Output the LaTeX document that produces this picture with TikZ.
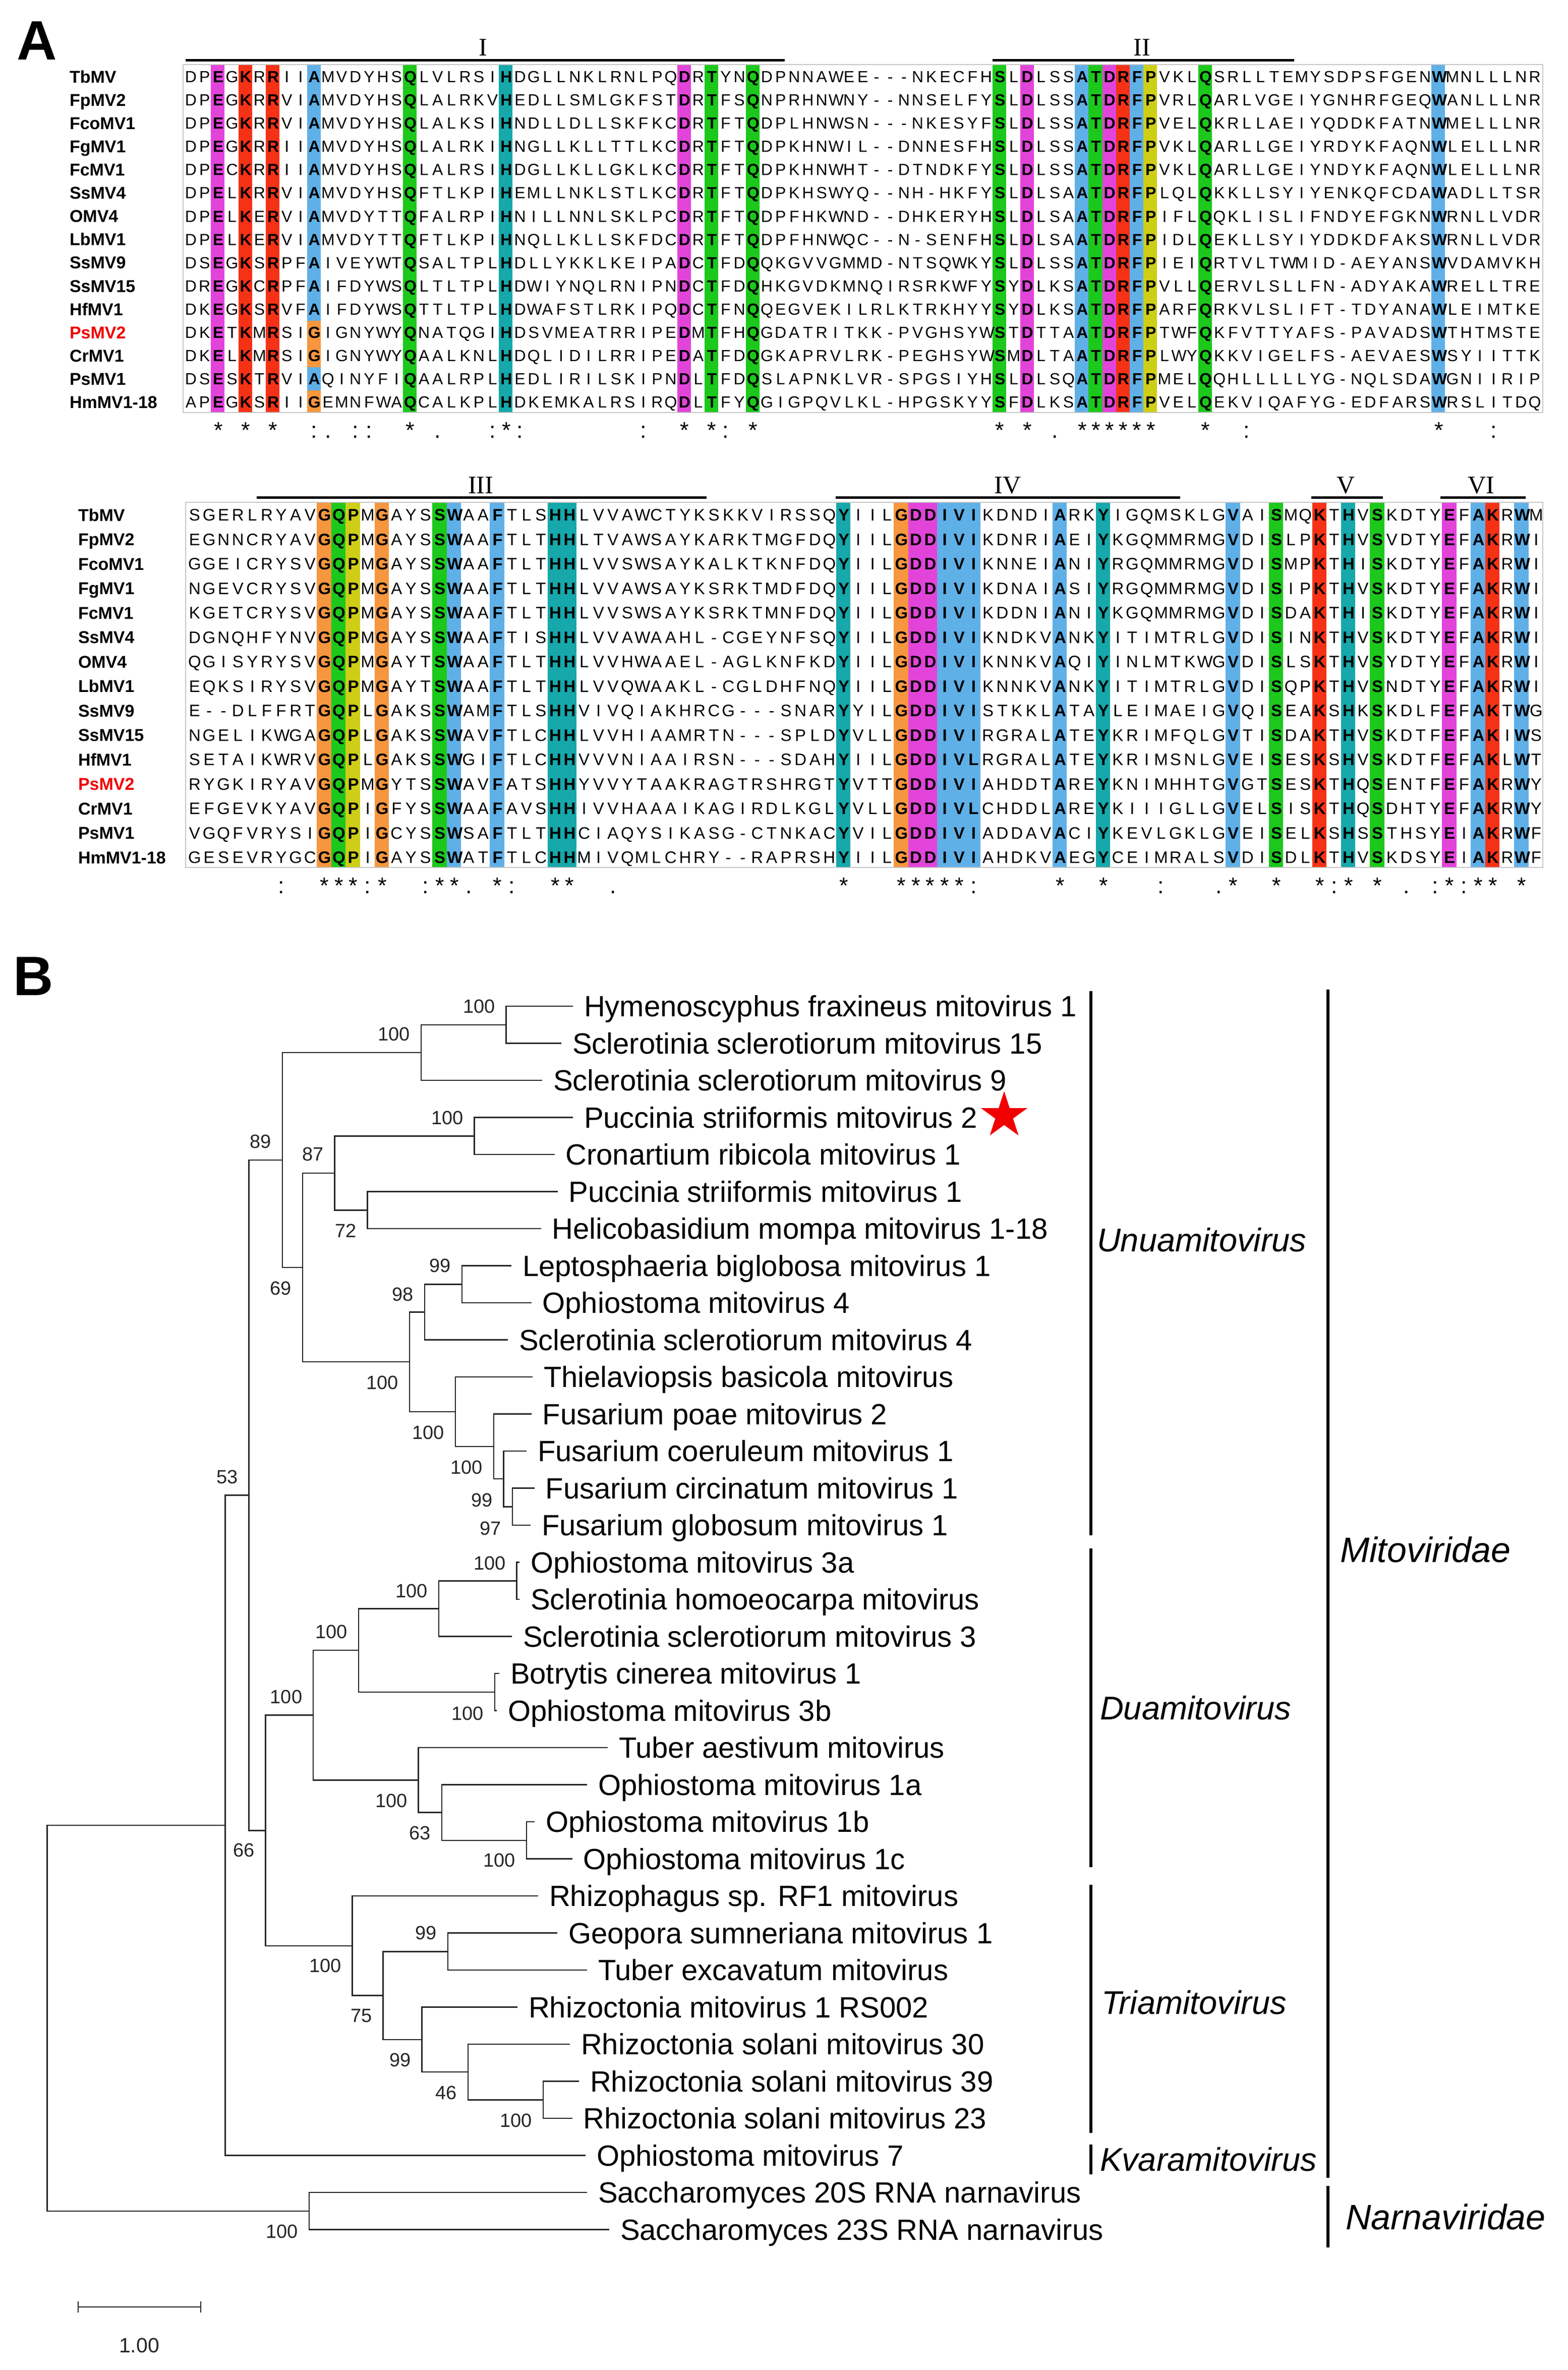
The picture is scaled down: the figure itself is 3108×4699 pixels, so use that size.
\documentclass[tikz,border=0pt]{standalone}
\usepackage{fontspec}
\setmainfont{Liberation Sans}
\newfontfamily\romfont{Liberation Serif}
\usetikzlibrary{calc,shapes.geometric}
\definecolor{cM}{RGB}{226,68,218}
\definecolor{cR}{RGB}{246,50,22}
\definecolor{cB}{RGB}{96,176,232}
\definecolor{cG}{RGB}{28,200,28}
\definecolor{cT}{RGB}{22,168,170}
\definecolor{cO}{RGB}{246,150,62}
\definecolor{cY}{RGB}{206,206,22}
\definecolor{psred}{RGB}{240,0,0}
\ExplSyntaxOn
\int_new:N \l__aln_col_int
\clist_new:N \l__aln_bold_clist
\dim_new:N \l__aln_w_dim
\str_new:N \l__aln_str
\cs_new_protected:Npn \aln_char:n #1
  {
    \int_incr:N \l__aln_col_int
    \str_if_eq:nnTF {#1} {0}
      { \hbox_to_wd:nn { \l__aln_w_dim } { \hfil } }
      {
        \exp_args:NNx \clist_if_in:NnTF \l__aln_bold_clist { \int_use:N \l__aln_col_int }
          { \hbox_to_wd:nn { \l__aln_w_dim } { \hfil \bfseries #1 \hfil } }
          { \hbox_to_wd:nn { \l__aln_w_dim } { \hfil #1 \hfil } }
      }
  }
\NewDocumentCommand \alnrow { m m m }
  {
    \dim_set:Nn \l__aln_w_dim {#1}
    \clist_set:Nx \l__aln_bold_clist {#2}
    \int_zero:N \l__aln_col_int
    \str_set:Nx \l__aln_str {#3}
    \str_map_function:NN \l__aln_str \aln_char:n
  }
\ExplSyntaxOff
\def\alnboldA{3,5,7,10,17,24,37,39,42,60,62,66,67,68,69,70,71,75,92}
\def\alnboldB{10,11,12,14,18,19,22,26,27,46,50,51,52,53,54,55,61,64,73,76,79,81,83,88,90,91,93}
\tikzset{
  panel/.style={font=\fontsize{22}{24}\selectfont\bfseries, inner sep=0pt, anchor=base},
  seqA/.style={font=\fontsize{6.4}{7}\selectfont, inner sep=0pt, anchor=base west},
  seqB/.style={font=\fontsize{6.6}{7}\selectfont, inner sep=0pt, anchor=base west},
  consv/.style={font=\fontsize{9}{10}\selectfont, inner sep=0pt, anchor=base west},
  nameS/.style={font=\fontsize{6.8}{8}\selectfont\bfseries, inner sep=0pt, anchor=base west},
  roman/.style={font=\fontsize{10}{12}\selectfont\romfont, inner sep=0pt, anchor=base},
  motif/.style={line width=1pt, draw=black},
  boxl/.style={line width=0.4pt, draw=black!22},
  tl/.style={line width=0.5pt, draw=black!85},
  leaflab/.style={font=\fontsize{11.6}{13}\selectfont, anchor=base west, inner sep=0pt},
  bsv/.style={font=\fontsize{7.6}{8}\selectfont, anchor=east, inner sep=0pt, text=black!85},
  brk/.style={line width=1.3pt, draw=black},
  genus/.style={font=\fontsize{13}{15}\selectfont\itshape, anchor=west, inner sep=0pt},
  family/.style={font=\fontsize{14}{16}\selectfont\itshape, anchor=west, inner sep=0pt},
}
\begin{document}
\begin{tikzpicture}[x=0.2pt,y=-0.2pt]
\useasboundingbox (0,0) rectangle (3108,4699);
\fill[white] (0,0) rectangle (3108,4699);

% ---------------- Panel A ----------------
\node[panel] (labA) at (73,119) {A};

% motif bars, top block
\coordinate (m1a) at (368,120); \coordinate (m1b) at (1556,120);
\coordinate (m2a) at (1968,120); \coordinate (m2b) at (2566,120);
\draw[motif] (m1a) -- (m1b);
\draw[motif] (m2a) -- (m2b);
\node[roman] (rI) at (958,111) {I};
\node[roman] (rII) at (2264,111) {II};

% coloured columns, top block
\foreach \c/\cl in {3/cM,5/cR,7/cR,10/cB,17/cG,24/cT,37/cM,39/cG,42/cG,60/cG,62/cM,66/cB,67/cG,68/cM,69/cR,70/cB,71/cY,75/cG,92/cB}
  \fill[\cl] ({363.9+(\c-1)*27.19},128) rectangle ++(27.19,690);
\fill[cO] (608.61,636) rectangle ++(27.19,92.25);
\fill[cO] (608.61,774.4) rectangle (635.8,818);
\draw[boxl] (363,128) rectangle (3059,818);

\foreach \i/\nm/\cc/\sq in {
1/TbMV/black/DPEGKRRIIAMVDYHSQLVLRSIHDGLLNKLRNLPQDRTYNQDPNNAWEE---NKECFHSLDLSSATDRFPVKLQSRLLTEMYSDPSFGENWMNLLLNR,
2/FpMV2/black/DPEGKRRVIAMVDYHSQLALRKVHEDLLSMLGKFSTDRTFSQNPRHNWNY--NNSELFYSLDLSSATDRFPVRLQARLVGEIYGNHRFGEQWANLLLNR,
3/FcoMV1/black/DPEGKRRVIAMVDYHSQLALKSIHNDLLDLLSKFKCDRTFTQDPLHNWSN---NKESYFSLDLSSATDRFPVELQKRLLAEIYQDDKFATNWMELLLNR,
4/FgMV1/black/DPEGKRRIIAMVDYHSQLALRKIHNGLLKLLTTLKCDRTFTQDPKHNWIL--DNNESFHSLDLSSATDRFPVKLQARLLGEIYRDYKFAQNWLELLLNR,
5/FcMV1/black/DPECKRRIIAMVDYHSQLALRSIHDGLLKLLGKLKCDRTFTQDPKHNWHT--DTNDKFYSLDLSSATDRFPVKLQARLLGEIYNDYKFAQNWLELLLNR,
6/SsMV4/black/DPELKRRVIAMVDYHSQFTLKPIHEMLLNKLSTLKCDRTFTQDPKHSWYQ--NH-HKFYSLDLSAATDRFPLQLQKKLLSYIYENKQFCDAWADLLTSR,
7/OMV4/black/DPELKERVIAMVDYTTQFALRPIHNILLNNLSKLPCDRTFTQDPFHKWND--DHKERYHSLDLSAATDRFPIFLQQKLISLIFNDYEFGKNWRNLLVDR,
8/LbMV1/black/DPELKERVIAMVDYTTQFTLKPIHNQLLKLLSKFDCDRTFTQDPFHNWQC--N-SENFHSLDLSAATDRFPIDLQEKLLSYIYDDKDFAKSWRNLLVDR,
9/SsMV9/black/DSEGKSRPFAIVEYWTQSALTPLHDLLYKKLKEIPADCTFDQQKGVVGMMD-NTSQWKYSLDLSSATDRFPIEIQRTVLTWMID-AEYANSWVDAMVKH,
10/SsMV15/black/DREGKCRPFAIFDYWSQLTLTPLHDWIYNQLRNIPNDCTFDQHKGVDKMNQIRSRKWFYSYDLKSATDRFPVLLQERVLSLLFN-ADYAKAWRELLTRE,
11/HfMV1/black/DKEGKSRVFAIFDYWSQTTLTPLHDWAFSTLRKIPQDCTFNQQEGVEKILRLKTRKHYYSYDLKSATDRFPARFQRKVLSLIFT-TDYANAWLEIMTKE,
12/PsMV2/psred/DKETKMRSIGIGNYWYQNATQGIHDSVMEATRRIPEDMTFHQGDATRITKK-PVGHSYWSTDTTAATDRFPTWFQKFVTTYAFS-PAVADSWTHTMSTE,
13/CrMV1/black/DKELKMRSIGIGNYWYQAALKNLHDQLIDILRRIPEDATFDQGKAPRVLRK-PEGHSYWSMDLTAATDRFPLWYQKKVIGELFS-AEVAESWSYIITTK,
14/PsMV1/black/DSESKTRVIAQINYFIQAALRPLHEDLIRILSKIPNDLTFDQSLAPNKLVR-SPGSIYHSLDLSQATDRFPMELQQHLLLLLYG-NQLSDAWGNIIRIP,
15/HmMV1-18/black/APEGKSRIIGEMNFWAQCALKPLHDKEMKALRSIRQDLTFYQGIGPQVLKL-HPGSKYYSFDLKSATDRFPVELQEKVIQAFYG-EDFARSWRSLITDQ}
{
  \node[nameS, text=\cc] (na\i) at (137,{152+(\i-1)*46.1+12.2}) {\nm};
  \node[seqA] (sa\i) at (363.9,{152+(\i-1)*46.1+11.5}) {\alnrow{5.438pt}{\alnboldA}{\sq}};
}
\node[consv] (ca) at (363.9,869) {\alnrow{5.438pt}{}{00*0*0*00:.0::00*0.000:*:00000000:00*0*:0*00000000000000000*0*0.0******000*00:0000000000000*000:000}};

% bottom block
\coordinate (m3a) at (509,987); \coordinate (m3b) at (1401,987);
\coordinate (m4a) at (1657,987); \coordinate (m4b) at (2340,987);
\coordinate (m5a) at (2600,987); \coordinate (m5b) at (2742,987);
\coordinate (m6a) at (2856,987); \coordinate (m6b) at (3025,987);
\draw[motif] (m3a) -- (m3b);
\draw[motif] (m4a) -- (m4b);
\draw[motif] (m5a) -- (m5b);
\draw[motif] (m6a) -- (m6b);
\node[roman] (rIII) at (953,979) {III};
\node[roman] (rIV) at (1998,979) {IV};
\node[roman] (rV) at (2669,979) {V};
\node[roman] (rVI) at (2937,979) {VI};

\foreach \c/\cl in {10/cO,11/cG,12/cY,14/cO,18/cG,19/cB,22/cB,26/cT,27/cT,46/cT,50/cO,51/cM,52/cM,53/cB,54/cB,55/cB,61/cB,64/cT,73/cB,76/cG,79/cR,81/cT,83/cG,88/cM,90/cB,91/cR,93/cB}
  \fill[\cl] ({370.7+(\c-1)*28.6},996) rectangle ++(28.6,724);
\draw[boxl] (368,996) rectangle (3059,1720);

\foreach \i/\nm/\cc/\sq in {
1/TbMV/black/SGERLRYAVGQPMGAYSSWAAFTLSHHLVVAWCTYKSKKVIRSSQYIILGDDIVIKDNDIARKYIGQMSKLGVAISMQKTHVSKDTYEFAKRWM,
2/FpMV2/black/EGNNCRYAVGQPMGAYSSWAAFTLTHHLTVAWSAYKARKTMGFDQYIILGDDIVIKDNRIAEIYKGQMMRMGVDISLPKTHVSVDTYEFAKRWI,
3/FcoMV1/black/GGEICRYSVGQPMGAYSSWAAFTLTHHLVVSWSAYKALKTKNFDQYIILGDDIVIKNNEIANIYRGQMMRMGVDISMPKTHISKDTYEFAKRWI,
4/FgMV1/black/NGEVCRYSVGQPMGAYSSWAAFTLTHHLVVAWSAYKSRKTMDFDQYIILGDDIVIKDNAIASIYRGQMMRMGVDISIPKTHVSKDTYEFAKRWI,
5/FcMV1/black/KGETCRYSVGQPMGAYSSWAAFTLTHHLVVSWSAYKSRKTMNFDQYIILGDDIVIKDDNIANIYKGQMMRMGVDISDAKTHISKDTYEFAKRWI,
6/SsMV4/black/DGNQHFYNVGQPMGAYSSWAAFTISHHLVVAWAAHL-CGEYNFSQYIILGDDIVIKNDKVANKYITIMTRLGVDISINKTHVSKDTYEFAKRWI,
7/OMV4/black/QGISYRYSVGQPMGAYTSWAAFTLTHHLVVHWAAEL-AGLKNFKDYIILGDDIVIKNNKVAQIYINLMTKWGVDISLSKTHVSYDTYEFAKRWI,
8/LbMV1/black/EQKSIRYSVGQPMGAYTSWAAFTLTHHLVVQWAAKL-CGLDHFNQYIILGDDIVIKNNKVANKYITIMTRLGVDISQPKTHVSNDTYEFAKRWI,
9/SsMV9/black/E--DLFFRTGQPLGAKSSWAMFTLSHHVIVQIAKHRCG---SNARYYILGDDIVISTKKLATAYLEIMAEIGVQISEAKSHKSKDLFEFAKTWG,
10/SsMV15/black/NGELIKWGAGQPLGAKSSWAVFTLCHHLVVHIAAMRTN---SPLDYVLLGDDIVIRGRALATEYKRIMFQLGVTISDAKTHVSKDTFEFAKIWS,
11/HfMV1/black/SETAIKWRVGQPLGAKSSWGIFTLCHHVVVNIAAIRSN---SDAHYIILGDDIVLRGRALATEYKRIMSNLGVEISESKSHVSKDTFEFAKLWT,
12/PsMV2/psred/RYGKIRYAVGQPMGYTSSWAVFATSHHYVVYTAAKRAGTRSHRGTYVTTGDDIVIAHDDTAREYKNIMHHTGVGTSESKTHQSENTFEFAKRWY,
13/CrMV1/black/EFGEVKYAVGQPIGFYSSWAAFAVSHHIVVHAAAIKAGIRDLKGLYVLLGDDIVLCHDDLAREYKIIIGLLGVELSISKTHQSDHTYEFAKRWY,
14/PsMV1/black/VGQFVRYSIGQPIGCYSSWSAFTLTHHCIAQYSIKASG-CTNKACYVILGDDIVIADDAVACIYKEVLGKLGVEISELKSHSSTHSYEIAKRWF,
15/HmMV1-18/black/GESEVRYGCGQPIGAYSSWATFTLCHHMIVQMLCHRY--RAPRSHYIILGDDIVIAHDKVAEGYCEIMRALSVDISDLKTHVSKDSYEIAKRWF}
{
  \node[nameS, text=\cc] (nb\i) at (154,{1021+(\i-1)*48.5+12.2}) {\nm};
  \node[seqB] (sb\i) at (370.7,{1021+(\i-1)*48.5+11.8}) {\alnrow{5.72pt}{\alnboldB}{\sq}};
}
\node[consv] (cb) at (370.7,1771) {\alnrow{5.72pt}{}{000000:00***:*00:**.0*:00**00.000000000000000*000*****:00000*00*000:000.*00*00*:*0*0.0:*:**0*0}};

% ---------------- Panel B ----------------
\node[panel] (labB) at (66,1973) {B};

% leaf tips
\coordinate (l1) at (1136,1995);
\coordinate (l2) at (1113,2068.5);
\coordinate (l3) at (1075,2142);
\coordinate (l4) at (1136,2215.5);
\coordinate (l5) at (1099.5,2289);
\coordinate (l6) at (1105.6,2362.5);
\coordinate (l7) at (1072.7,2436);
\coordinate (l8) at (1014,2509.5);
\coordinate (l9) at (1053.6,2583);
\coordinate (l10) at (1007,2656.5);
\coordinate (l11) at (1056,2730);
\coordinate (l12) at (1053.6,2803.5);
\coordinate (l13) at (1044,2877);
\coordinate (l14) at (1059.7,2950.5);
\coordinate (l15) at (1052,3024);
\coordinate (l16) at (1030,3097.5);
\coordinate (l17) at (1030,3171);
\coordinate (l18) at (1015,3244.5);
\coordinate (l19) at (990,3318);
\coordinate (l20) at (985,3391.5);
\coordinate (l21) at (1205,3465);
\coordinate (l22) at (1164,3538.5);
\coordinate (l23) at (1060,3612);
\coordinate (l24) at (1134.5,3685.5);
\coordinate (l25) at (1067,3759);
\coordinate (l26) at (1105,3832.5);
\coordinate (l27) at (1164,3906);
\coordinate (l28) at (1026,3979.5);
\coordinate (l29) at (1130,4053);
\coordinate (l30) at (1148,4126.5);
\coordinate (l31) at (1134.5,4200);
\coordinate (l32) at (1161,4273.5);
\coordinate (l33) at (1164,4347);
\coordinate (l34) at (1208,4420.5);

% internal nodes
\coordinate (nR) at (93.7,4001.39);
\coordinate (nM) at (446.5,3619.04);
\coordinate (nN) at (612.8,4383.75);
\coordinate (nU) at (493.5,2964.57);
\coordinate (nA) at (560,2299.91);
\coordinate (nB) at (526.5,3629.23);
\coordinate (nC) at (835,2086.875);
\coordinate (nE) at (1003.5,2031.75);
\coordinate (nD) at (600,2512.945);
\coordinate (nF) at (663.3,2325.75);
\coordinate (nH) at (940.4,2252.25);
\coordinate (nI) at (728.5,2399.25);
\coordinate (nG) at (812,2700.14);
\coordinate (nJ) at (842,2601.375);
\coordinate (nL) at (916,2546.25);
\coordinate (nK) at (903,2798.906);
\coordinate (nP) at (979,2867.81);
\coordinate (nQ) at (998.6,2932.125);
\coordinate (nS) at (1016,2987.25);
\coordinate (nT) at (621.2,3400.69);
\coordinate (nW) at (711,3272.06);
\coordinate (nY) at (870,3189.375);
\coordinate (nAA) at (1024.6,3134.25);
\coordinate (nZ) at (981,3354.75);
\coordinate (nX) at (829.5,3529.31);
\coordinate (nAB) at (876,3593.625);
\coordinate (nAC) at (1044,3648.75);
\coordinate (nV) at (698.4,3857.77);
\coordinate (nAD) at (759.4,3956.53);
\coordinate (nAE) at (887.8,3869.25);
\coordinate (nAF) at (836.6,4043.81);
\coordinate (nAG) at (927.8,4108.125);
\coordinate (nAH) at (1077,4163.25);

\foreach \p/\c in {nR/nM,nR/nN,nN/l33,nN/l34,nM/nU,nM/l32,nU/nA,nU/nB,nA/nC,nA/nD,nC/nE,nC/l3,nE/l1,nE/l2,nD/nF,nD/nG,nF/nH,nF/nI,nH/l4,nH/l5,nI/l6,nI/l7,nG/nJ,nG/nK,nJ/nL,nJ/l10,nL/l8,nL/l9,nK/l11,nK/nP,nP/l12,nP/nQ,nQ/l13,nQ/nS,nS/l14,nS/l15,nB/nT,nB/nV,nT/nW,nT/nX,nW/nY,nW/nZ,nY/nAA,nY/l18,nAA/l16,nAA/l17,nZ/l19,nZ/l20,nX/l21,nX/nAB,nAB/l22,nAB/nAC,nAC/l23,nAC/l24,nV/l25,nV/nAD,nAD/nAE,nAD/nAF,nAE/l26,nAE/l27,nAF/l28,nAF/nAG,nAG/l29,nAG/nAH,nAH/l30,nAH/l31}
  \draw[tl] (\p) |- (\c);

\foreach \i/\t in {
1/Hymenoscyphus fraxineus mitovirus 1,
2/Sclerotinia sclerotiorum mitovirus 15,
3/Sclerotinia sclerotiorum mitovirus 9,
4/Puccinia striiformis mitovirus 2,
5/Cronartium ribicola mitovirus 1,
6/Puccinia striiformis mitovirus 1,
7/Helicobasidium mompa mitovirus 1-18,
8/Leptosphaeria biglobosa mitovirus 1,
9/Ophiostoma mitovirus 4,
10/Sclerotinia sclerotiorum mitovirus 4,
11/Thielaviopsis basicola mitovirus,
12/Fusarium poae mitovirus 2,
13/Fusarium coeruleum mitovirus 1,
14/Fusarium circinatum mitovirus 1,
15/Fusarium globosum mitovirus 1,
16/Ophiostoma mitovirus 3a,
17/Sclerotinia homoeocarpa mitovirus,
18/Sclerotinia sclerotiorum mitovirus 3,
19/Botrytis cinerea mitovirus 1,
20/Ophiostoma mitovirus 3b,
21/Tuber aestivum mitovirus,
22/Ophiostoma mitovirus 1a,
23/Ophiostoma mitovirus 1b,
24/Ophiostoma mitovirus 1c,
25/Rhizophagus sp. RF1 mitovirus,
26/Geopora sumneriana mitovirus 1,
27/Tuber excavatum mitovirus,
28/Rhizoctonia mitovirus 1 RS002,
29/Rhizoctonia solani mitovirus 30,
30/Rhizoctonia solani mitovirus 39,
31/Rhizoctonia solani mitovirus 23,
32/Ophiostoma mitovirus 7,
33/Saccharomyces 20S RNA narnavirus,
34/Saccharomyces 23S RNA narnavirus}
  \node[leaflab] (t\i) at ($(l\i)+(21,20.8)$) {\t};

\node[star, star points=5, star point ratio=2.618, fill=psred, draw=none, inner sep=0pt, minimum size=19.4pt] (pstar) at (1991,2212) {};

% bootstrap values
\foreach \n/\v/\d in {nE/100/-36,nC/100/-36,nA/89/-37,nU/53/-36,nF/87/-37,nH/100/-36,nI/72/41,nD/69/41,nG/100/41,nJ/98/-35,nL/99/-37,nK/100/41,nP/100/42,nQ/99/42,nS/97/43,nAA/100/-35,nY/100/-35,nW/100/-37,nZ/100/43,nT/100/-36,nX/100/41,nAB/63/41,nAC/100/40,nB/66/39,nV/100/40,nAD/75/40,nAE/99/-37,nAF/99/41,nAG/46/41,nAH/100/41,nN/100/41}
  \node[bsv] (bs\n) at ($(\n)+(-21,\d)$) {\v};

% clade brackets
\coordinate (bu1) at (2163,1965); \coordinate (bu2) at (2163,3044);
\coordinate (bd1) at (2163,3070); \coordinate (bd2) at (2163,3702);
\coordinate (bt1) at (2163,3737); \coordinate (bt2) at (2163,4229);
\coordinate (bk1) at (2163,4252); \coordinate (bk2) at (2163,4311);
\coordinate (bm1) at (2633,1962); \coordinate (bm2) at (2633,4318);
\coordinate (bn1) at (2633,4334); \coordinate (bn2) at (2633,4456);
\draw[brk] (bu1) -- (bu2);
\draw[brk] (bd1) -- (bd2);
\draw[brk] (bt1) -- (bt2);
\draw[brk] (bk1) -- (bk2);
\draw[brk] (bm1) -- (bm2);
\draw[brk] (bn1) -- (bn2);
\node[genus] (gU) at (2174,2458) {Unuamitovirus};
\node[genus] (gD) at (2180,3386) {Duamitovirus};
\node[genus] (gT) at (2183,3970) {Triamitovirus};
\node[genus] (gK) at (2180,4281) {Kvaramitovirus};
\node[family] (fM) at (2656,3072) {Mitoviridae};
\node[family] (fN) at (2667,4395) {Narnaviridae};

% scale bar
\coordinate (sc1) at (155,4574); \coordinate (sc2) at (398,4574);
\draw[tl] (sc1) -- (sc2);
\draw[tl] ($(sc1)+(0,-11)$) -- ($(sc1)+(0,11)$);
\draw[tl] ($(sc2)+(0,-11)$) -- ($(sc2)+(0,11)$);
\node[font=\fontsize{8.2}{9}\selectfont, inner sep=0pt, text=black!85] (sclab) at (276,4650) {1.00};
\end{tikzpicture}
\end{document}
